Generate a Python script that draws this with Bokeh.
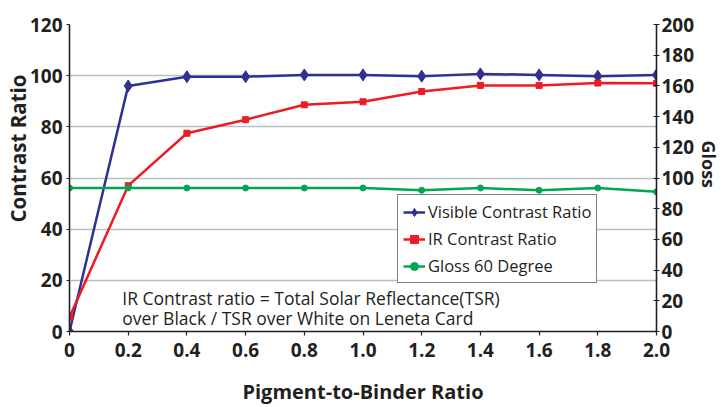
from math import pi
from bokeh.plotting import figure
from bokeh.models import Range1d, LinearAxis, FixedTicker, Label, Legend, LegendItem, Title
from bokeh.embed import file_html
from bokeh.resources import INLINE

# ---- data ----
ratio = [0.0, 0.2, 0.4, 0.6, 0.8, 1.0, 1.2, 1.4, 1.6, 1.8, 2.0]
visible_cr = [0.0, 96.0, 99.6, 99.6, 100.3, 100.3, 99.8, 100.7, 100.3, 99.8, 100.3]
ir_cr = [5.6, 57.0, 77.5, 82.8, 88.6, 89.8, 93.8, 96.2, 96.2, 97.1, 97.0]
gloss_60 = [93.5, 93.5, 93.5, 93.5, 93.5, 93.5, 92.0, 93.5, 92.0, 93.5, 91.0]

x_ticks = [0.0, 0.2, 0.4, 0.6, 0.8, 1.0, 1.2, 1.4, 1.6, 1.8, 2.0]
left_ticks = [0, 20, 40, 60, 80, 100, 120]
right_ticks = [0, 20, 40, 60, 80, 100, 120, 140, 160, 180, 200]

series_names = ["Visible Contrast Ratio", "IR Contrast Ratio", "Gloss 60 Degree"]
note_lines = ["IR Contrast ratio = Total Solar Reflectance(TSR)",
              "over Black / TSR over White on Leneta Card"]

# ---- style ----
TXT = "#231f20"
FONT = "Open Sans"
BLUE = "#2e3192"
RED = "#ed1c24"
GREEN = "#00a651"
GRID = "#b7bec6"

p = figure(width=722, height=407, x_range=Range1d(0, 2.0), y_range=Range1d(0, 120),
           output_backend="svg", toolbar_location=None,
           min_border_left=69, min_border_right=66, min_border_top=24, min_border_bottom=76)
p.outline_line_color = None
p.background_fill_color = "white"
p.extra_y_ranges = {"gloss": Range1d(0, 200)}

p.xgrid.grid_line_color = None
p.ygrid.grid_line_color = GRID
p.ygrid.grid_line_width = 1.5
p.ygrid.ticker = FixedTicker(ticks=left_ticks)

def style_axis(ax):
    ax.axis_line_color = TXT
    ax.axis_line_width = 1.6
    ax.major_tick_line_color = TXT
    ax.major_tick_line_width = 1.2
    ax.minor_tick_line_color = None
    ax.major_label_text_font = FONT
    ax.major_label_text_font_style = "bold"
    ax.major_label_text_font_size = "19px"
    ax.major_label_text_color = TXT
    ax.axis_label_text_font = FONT
    ax.axis_label_text_font_style = "bold"
    ax.axis_label_text_color = TXT

xa = p.xaxis[0]
style_axis(xa)
xa.ticker = FixedTicker(ticks=x_ticks)
xa.major_label_overrides = {0: "0", 0.2: "0.2", 0.4: "0.4", 0.6: "0.6", 0.8: "0.8",
                            1: "1.0", 1.2: "1.2", 1.4: "1.4", 1.6: "1.6", 1.8: "1.8", 2: "2.0"}
xa.major_tick_in = 0
xa.major_tick_out = 4
xa.major_label_standoff = 7
xa.axis_label = "Pigment-to-Binder Ratio"
xa.axis_label_text_font_size = "20px"
xa.axis_label_standoff = 18

ya = p.yaxis[0]
style_axis(ya)
ya.ticker = FixedTicker(ticks=left_ticks)
ya.major_tick_in = 0
ya.major_tick_out = 3
ya.major_label_standoff = 4

ra = LinearAxis(y_range_name="gloss", ticker=FixedTicker(ticks=right_ticks))
style_axis(ra)
ra.major_tick_in = 3
ra.major_tick_out = 3
ra.major_label_standoff = 2
p.add_layout(ra, "right")

ytitle = Title(text="Contrast Ratio", align="left", offset=109, standoff=-10,
               text_font=FONT, text_font_style="bold", text_font_size="20.5px",
               text_color=TXT, vertical_align="bottom")
p.add_layout(ytitle, "left")

gloss_title = Title(text="Gloss", align="left", offset=116, standoff=-2,
                    text_font=FONT, text_font_style="bold", text_font_size="18px",
                    text_color=TXT, vertical_align="bottom")
p.add_layout(gloss_title, "right")

# ---- series ----
l1 = p.line(ratio, visible_cr, line_color=BLUE, line_width=2.5)
m1 = p.scatter(ratio, visible_cr, marker="diamond", size=12, fill_color=BLUE, line_color=BLUE)
l2 = p.line(ratio, ir_cr, line_color=RED, line_width=2.5)
m2 = p.scatter(ratio, ir_cr, marker="square", size=6, fill_color=RED, line_color=RED)
l3 = p.line(ratio, gloss_60, line_color=GREEN, line_width=2.5, y_range_name="gloss")
m3 = p.scatter(ratio, gloss_60, marker="circle", size=6, fill_color=GREEN, line_color=GREEN,
               y_range_name="gloss")

legend = Legend(items=[LegendItem(label=series_names[0], renderers=[l1, m1]),
                       LegendItem(label=series_names[1], renderers=[l2, m2]),
                       LegendItem(label=series_names[2], renderers=[l3, m3])],
                location=(328, 48))
legend.border_line_color = "black"
legend.border_line_width = 1.5
legend.background_fill_color = "white"
legend.background_fill_alpha = 1.0
legend.label_text_font = FONT
legend.label_text_font_size = "16.5px"
legend.label_text_color = TXT
legend.glyph_width = 22
legend.glyph_height = 20
legend.label_height = 20
legend.label_standoff = 3
legend.padding = 5
legend.spacing = 4
legend.margin = 0
p.add_layout(legend)

# ---- note ----
p.add_layout(Label(x=0.18, y=12.9, text=note_lines[0], text_font=FONT, text_font_size="17.5px",
                   text_color=TXT, text_baseline="middle", text_align="left"))
p.add_layout(Label(x=0.18, y=5.1, text=note_lines[1], text_font=FONT, text_font_size="17.5px",
                   text_color=TXT, text_baseline="middle", text_align="left"))

open("out.html", "w").write(file_html(p, INLINE))
